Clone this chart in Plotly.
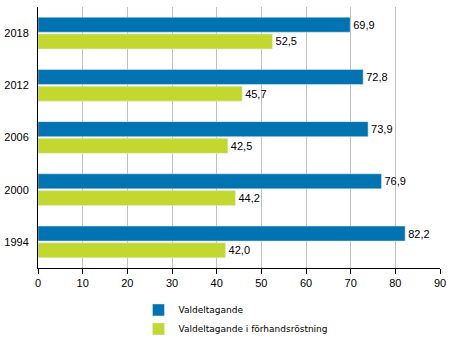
import plotly.graph_objects as go

years = ["1994", "2000", "2006", "2012", "2018"]
valdeltagande = [82.2, 76.9, 73.9, 72.8, 69.9]
forhand = [42.0, 44.2, 42.5, 45.7, 52.5]
x_ticks = [0, 10, 20, 30, 40, 50, 60, 70, 80, 90]

blue = "#0073b0"
green = "#c3d82e"
font = "Arial, Liberation Sans, sans-serif"

fig = go.Figure()
fig.add_trace(go.Bar(
    y=years, x=forhand, orientation="h", name="Valdeltagande i förhandsröstning",
    marker_color=green, texttemplate="%{x:.1f}", textposition="outside",
    textfont=dict(size=11, color="black"), cliponaxis=False, legendrank=2,
))
fig.add_trace(go.Bar(
    y=years, x=valdeltagande, orientation="h", name="Valdeltagande",
    marker_color=blue, texttemplate="%{x:.1f}", textposition="outside",
    textfont=dict(size=11, color="black"), cliponaxis=False, legendrank=1,
))

fig.update_layout(
    width=454, height=340,
    margin=dict(l=38, r=14, t=7, b=72, autoexpand=False),
    paper_bgcolor="white", plot_bgcolor="white",
    separators=", ",
    barmode="group", bargap=0.36, bargroupgap=0.1,
    font=dict(family=font, size=11, color="black"),
    showlegend=True,
    legend=dict(xref="container", yref="container", x=0.305, xanchor="left",
                y=0.131, yanchor="top",
                orientation="v", font=dict(size=9, family="DejaVu Sans"),
                tracegroupgap=0, itemwidth=30),
    xaxis=dict(range=[0, 90], tickvals=x_ticks, showgrid=True, gridcolor="#c0c0c0",
               gridwidth=1, showline=True, linecolor="black", linewidth=1,
               ticks="outside", ticklen=5, tickcolor="black", zeroline=False,
               fixedrange=True),
    yaxis=dict(showline=True, linecolor="black", linewidth=1, ticks="",
               ticklabelstandoff=6, showgrid=False),
)

fig.write_html("out.html")
